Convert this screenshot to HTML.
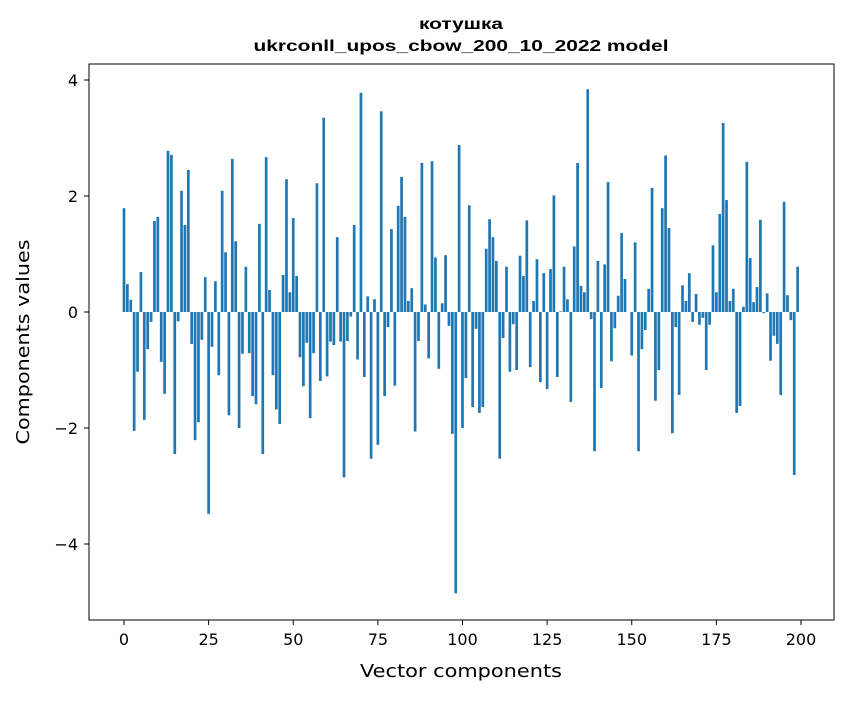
<!DOCTYPE html>
<html><head><meta charset="utf-8"><style>
body{margin:0;background:#fff;font-family:"Liberation Sans","DejaVu Sans",sans-serif}
svg text{font-family:"DejaVu Sans","Liberation Sans",sans-serif}
</style></head><body>
<svg id="chart" width="847" height="696" xmlns="http://www.w3.org/2000/svg">
<rect width="847" height="696" fill="#fff"/>
<text x="461" y="29" font-size="16" font-weight="bold" text-anchor="middle" style="font-family:'Liberation Sans',sans-serif" textLength="84" lengthAdjust="spacingAndGlyphs">котушка</text>
<text x="461" y="51" font-size="16" font-weight="bold" text-anchor="middle" style="font-family:'Liberation Sans',sans-serif" textLength="415" lengthAdjust="spacingAndGlyphs">ukrconll_upos_cbow_200_10_2022 model</text>
<g id="bars"></g>
<g id="axes"></g>
<rect x="89" y="64" width="745" height="556" fill="none" stroke="#000" stroke-width="1"/>
<text x="461" y="677" font-size="18" text-anchor="middle" textLength="202" lengthAdjust="spacingAndGlyphs">Vector components</text>
<text transform="translate(29,342) rotate(-90)" font-size="18" text-anchor="middle" textLength="205" lengthAdjust="spacingAndGlyphs">Components values</text>
</svg>
<script>
const values = [1.79,0.48,0.21,-2.05,-1.03,0.69,-1.86,-0.64,-0.17,1.57,1.64,-0.86,-1.41,2.78,2.71,-2.45,-0.16,2.09,1.5,2.45,
-0.55,-2.21,-1.9,-0.48,0.6,-3.48,-0.6,0.53,-1.09,2.09,1.03,-1.78,2.64,1.22,-2.0,-0.72,0.78,-0.71,-1.45,-1.59,
1.52,-2.45,2.67,0.38,-1.09,-1.68,-1.93,0.64,2.29,0.34,1.62,0.62,-0.78,-1.28,-0.53,-1.83,-0.71,2.22,-1.19,3.35,
-1.11,-0.51,-0.57,1.29,-0.51,-2.85,-0.5,-0.08,1.5,-0.82,3.78,-1.12,0.27,-2.53,0.22,-2.29,3.46,-1.45,-0.26,1.43,
-1.27,1.83,2.33,1.64,0.19,0.41,-2.06,-0.5,2.57,0.13,-0.8,2.6,0.94,-0.98,0.15,0.98,-0.24,-2.1,-4.85,2.88,
-2.0,-1.14,1.84,-1.64,-0.29,-1.74,-1.64,1.09,1.6,1.29,0.88,-2.53,-0.45,0.78,-1.03,-0.21,-1.0,0.97,0.62,1.58,
-0.95,0.19,0.91,-1.21,0.67,-1.33,0.74,2.01,-1.12,0.01,0.78,0.22,-1.55,1.13,2.57,0.45,0.34,3.84,-0.12,-2.4,
0.88,-1.31,0.82,2.24,-0.85,-0.28,0.28,1.36,0.57,0.0,-0.75,1.2,-2.4,-0.64,-0.31,0.4,2.14,-1.53,-1.0,1.79,
2.7,1.45,-2.09,-0.26,-1.43,0.46,0.19,0.67,-0.17,0.31,-0.22,-0.1,-1.0,-0.22,1.15,0.34,1.69,3.26,1.93,0.19,
0.4,-1.74,-1.62,0.09,2.59,0.93,0.17,0.43,1.59,-0.02,0.32,-0.84,-0.41,-0.55,-1.43,1.9,0.29,-0.14,-2.81,0.78];
const xTicks = [0,25,50,75,100,125,150,175,200];
const yTicks = [-4,-2,0,2,4];
const yTickLabels = ["\u22124","\u22122","0","2","4"];

const NS = "http://www.w3.org/2000/svg";
const xScale = v => 124 + v * (677/200);
const yScale = v => 312 - v * 58;
const bw = 0.8 * (677/200);
const bars = document.getElementById('bars');
values.forEach((v, i) => {
  const r = document.createElementNS(NS, 'rect');
  const y0 = yScale(Math.max(v, 0)), y1 = yScale(Math.min(v, 0));
  r.setAttribute('x', xScale(i) - bw/2);
  r.setAttribute('y', y0);
  r.setAttribute('width', bw);
  r.setAttribute('height', Math.max(y1 - y0, 0));
  r.setAttribute('fill', '#1f77b4');
  
  
  bars.appendChild(r);
});
const axes = document.getElementById('axes');
xTicks.forEach(t => {
  const x = xScale(t);
  const l = document.createElementNS(NS, 'line');
  l.setAttribute('x1', x); l.setAttribute('x2', x);
  l.setAttribute('y1', 620); l.setAttribute('y2', 625);
  l.setAttribute('stroke', '#000');
  
  
  axes.appendChild(l);
  const tx = document.createElementNS(NS, 'text');
  tx.setAttribute('x', x); tx.setAttribute('y', 645);
  tx.setAttribute('font-size', '16'); tx.setAttribute('text-anchor', 'middle');
  
  
  tx.textContent = t;
  axes.appendChild(tx);
});
yTicks.forEach((t, k) => {
  const y = yScale(t);
  const l = document.createElementNS(NS, 'line');
  l.setAttribute('x1', 84); l.setAttribute('x2', 89);
  l.setAttribute('y1', y); l.setAttribute('y2', y);
  l.setAttribute('stroke', '#000');
  
  
  axes.appendChild(l);
  const tx = document.createElementNS(NS, 'text');
  tx.setAttribute('x', 78); tx.setAttribute('y', y + 6);
  tx.setAttribute('font-size', '16'); tx.setAttribute('text-anchor', 'end');
  
  
  tx.textContent = yTickLabels[k];
  axes.appendChild(tx);
});
</script>
</body></html>
